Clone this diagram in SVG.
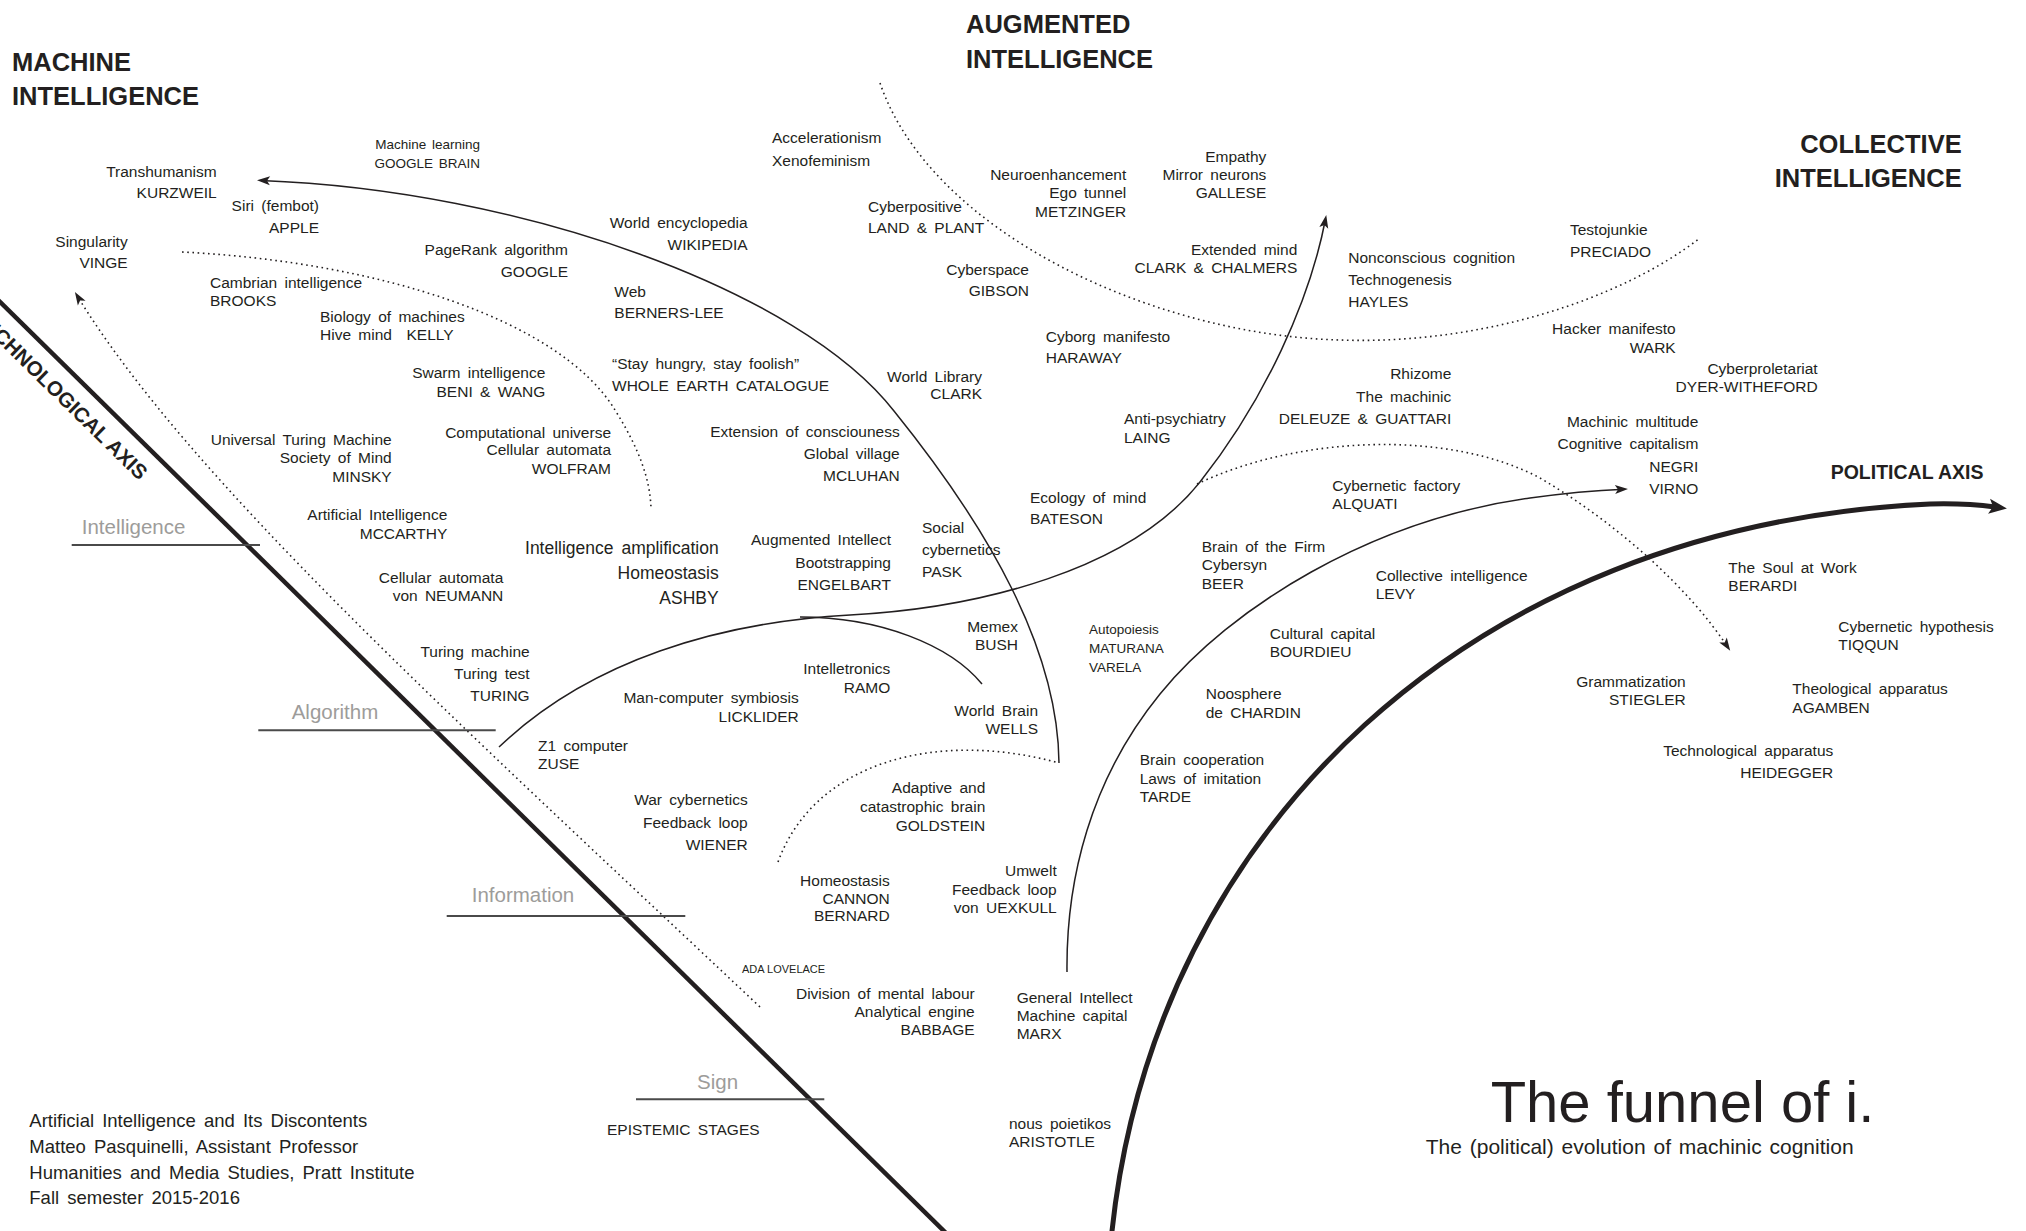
<svg xmlns="http://www.w3.org/2000/svg" width="2026" height="1231" viewBox="0 0 2026 1231">
<style>
text{font-family:"Liberation Sans",Arial,sans-serif;fill:#231f20}
.t{font-size:15.5px;word-spacing:3px}
.s{font-size:13.5px;word-spacing:2px}
.x{font-size:11px}
.b{font-size:17.5px;word-spacing:3px}
.e{text-anchor:end}
.h{font-weight:bold;font-size:25.5px}
.ax{font-weight:bold;font-size:19.5px}
.ta{font-weight:bold;font-size:20.6px}
.g{fill:#9d9c9a;font-size:20.5px}
.ft{font-size:18.5px;word-spacing:3px}
.ln{fill:none;stroke:#231f20;stroke-width:1.5}
.dt{fill:none;stroke:#231f20;stroke-width:1.6;stroke-dasharray:1.6 3.6}
.ul{stroke:#4a4a4a;stroke-width:2}
</style>
<defs>
<marker id="ah" markerUnits="userSpaceOnUse" viewBox="-10 -6 15 12" markerWidth="15" markerHeight="12" refX="0" refY="0" orient="auto"><path d="M4,0 L-9,-4.5 L-6,0 L-9,4.5 Z" fill="#231f20"/></marker>
<marker id="ahb" markerUnits="userSpaceOnUse" viewBox="-8 -9 22 18" markerWidth="22" markerHeight="18" refX="0" refY="0" orient="auto"><path d="M12,0 L-6,-7.5 L-2,0 L-6,7.5 Z" fill="#231f20"/></marker>
</defs>
<rect width="2026" height="1231" fill="#fff"/>

<g id="axes">
<line x1="-5" y1="297" x2="950" y2="1237" stroke="#231f20" stroke-width="4.5"/>
<path d="M1111,1240 L1112,1231 C1155,830 1470,525 1930,504 Q1965,503 1995,507" fill="none" stroke="#231f20" stroke-width="5" marker-end="url(#ahb)"/>
</g>

<g id="connectors">
<path class="ln" d="M1059,763 C1058,650 990,530 894,411 C800,290 520,190 261,180.5" marker-end="url(#ah)"/>
<path class="ln" d="M499,747 C590,660 720,622 850,615 C980,608 1130,570 1200,482 C1265,400 1310,300 1325.5,219" marker-end="url(#ah)"/>
<path class="ln" d="M800,617 C880,617 950,645 982,684"/>
<path class="ln" d="M1067,972 C1066,880 1090,780 1160,694 C1230,608 1370,520 1530,498 Q1580,491 1624,489.2" marker-end="url(#ah)"/>
<path class="dt" d="M182,252 C380,262 560,320 615,410 C640,450 650,480 651,508"/>
<path class="dt" d="M760,1007 C450,715 190,480 77,295.5" marker-end="url(#ah)"/>
<path class="dt" d="M880,83 C930,230 1150,335 1340,340 C1480,345 1620,300 1700,238"/>
<path class="dt" d="M1197,484 C1300,435 1450,430 1540,478 C1620,525 1690,590 1728,647.5" marker-end="url(#ah)"/>
<path class="dt" d="M778,862 C815,760 940,730 1059,763"/>
</g>

<g id="titles">
<text class="h" x="12" y="70.7">MACHINE</text>
<text class="h" x="12" y="105">INTELLIGENCE</text>
<text class="h" x="966" y="33">AUGMENTED</text>
<text class="h" x="966" y="68">INTELLIGENCE</text>
<text class="h e" x="1961.7" y="153.3">COLLECTIVE</text>
<text class="h e" x="1961.7" y="186.7">INTELLIGENCE</text>
<text class="ax" x="1830.7" y="479.3">POLITICAL AXIS</text>
<text class="ta e" transform="translate(139,481) rotate(44.5)" x="0" y="0">TECHNOLOGICAL AXIS</text>
</g>

<g id="stages">
<text class="g" x="81.7" y="534.3">Intelligence</text>
<line class="ul" x1="71.7" y1="545" x2="260" y2="545"/>
<text class="g" x="291.7" y="719.3">Algorithm</text>
<line class="ul" x1="258.3" y1="730.3" x2="495.7" y2="730.3"/>
<text class="g" x="471.7" y="902">Information</text>
<line class="ul" x1="446.7" y1="916" x2="685.3" y2="916"/>
<text class="g" x="697" y="1088.7">Sign</text>
<line class="ul" x1="636" y1="1099.3" x2="824.3" y2="1099.3"/>
<text class="t" x="607" y="1135.3">EPISTEMIC STAGES</text>
</g>

<g id="n-kurzweil"><text class="t e"><tspan x="216.7" y="176.7">Transhumanism</tspan><tspan x="216.7" y="198.3">KURZWEIL</tspan></text></g>
<g id="n-apple"><text class="t e"><tspan x="319" y="210.7">Siri (fembot)</tspan><tspan x="319" y="233.3">APPLE</tspan></text></g>
<g id="n-vinge"><text class="t e"><tspan x="127.7" y="246.7">Singularity</tspan><tspan x="127.7" y="268.3">VINGE</tspan></text></g>
<g id="n-googlebrain"><text class="s e"><tspan x="480" y="149">Machine learning</tspan><tspan x="480" y="168.3">GOOGLE BRAIN</tspan></text></g>
<g id="n-brooks"><text class="t"><tspan x="210" y="288.3">Cambrian intelligence</tspan><tspan x="210" y="306">BROOKS</tspan></text></g>
<g id="n-kelly"><text class="t" xml:space="preserve"><tspan x="320" y="321.7">Biology of machines</tspan><tspan x="320" y="340">Hive mind  KELLY</tspan></text></g>
<g id="n-beni"><text class="t e"><tspan x="545.3" y="378.3">Swarm intelligence</tspan><tspan x="545.3" y="396.7">BENI &amp; WANG</tspan></text></g>
<g id="n-google"><text class="t e"><tspan x="568" y="255">PageRank algorithm</tspan><tspan x="568" y="276.7">GOOGLE</tspan></text></g>
<g id="n-accel"><text class="t"><tspan x="772" y="143.3">Accelerationism</tspan><tspan x="772" y="165.7">Xenofeminism</tspan></text></g>
<g id="n-wikipedia"><text class="t e"><tspan x="747.7" y="228.3">World encyclopedia</tspan><tspan x="747.7" y="250">WIKIPEDIA</tspan></text></g>
<g id="n-bernerslee"><text class="t"><tspan x="614.3" y="296.7">Web</tspan><tspan x="614.3" y="318.3">BERNERS-LEE</tspan></text></g>
<g id="n-wholeearth"><text class="t"><tspan x="612" y="369.3">“Stay hungry, stay foolish”</tspan><tspan x="612" y="390.7">WHOLE EARTH CATALOGUE</tspan></text></g>
<g id="n-land"><text class="t"><tspan x="868" y="212.3">Cyberpositive</tspan><tspan x="868" y="233.3">LAND &amp; PLANT</tspan></text></g>
<g id="n-gibson"><text class="t e"><tspan x="1029" y="275">Cyberspace</tspan><tspan x="1029" y="296">GIBSON</tspan></text></g>
<g id="n-clark"><text class="t e"><tspan x="982" y="381.7">World Library</tspan><tspan x="982" y="399">CLARK</tspan></text></g>
<g id="n-metzinger"><text class="t e"><tspan x="1126.3" y="180">Neuroenhancement</tspan><tspan x="1126.3" y="198.3">Ego tunnel</tspan><tspan x="1126.3" y="216.7">METZINGER</tspan></text></g>
<g id="n-gallese"><text class="t e"><tspan x="1266.3" y="162.3">Empathy</tspan><tspan x="1266.3" y="180">Mirror neurons</tspan><tspan x="1266.3" y="198.3">GALLESE</tspan></text></g>
<g id="n-chalmers"><text class="t e"><tspan x="1297.3" y="255">Extended mind</tspan><tspan x="1297.3" y="272.7">CLARK &amp; CHALMERS</tspan></text></g>
<g id="n-hayles"><text class="t"><tspan x="1348.3" y="263.3">Nonconscious cognition</tspan><tspan x="1348.3" y="285">Technogenesis</tspan><tspan x="1348.3" y="306.7">HAYLES</tspan></text></g>
<g id="n-haraway"><text class="t"><tspan x="1045.7" y="342.3">Cyborg manifesto</tspan><tspan x="1045.7" y="362.7">HARAWAY</tspan></text></g>
<g id="n-deleuze"><text class="t e"><tspan x="1451.3" y="379">Rhizome</tspan><tspan x="1451.3" y="401.7">The machinic</tspan><tspan x="1451.3" y="423.7">DELEUZE &amp; GUATTARI</tspan></text></g>
<g id="n-preciado"><text class="t"><tspan x="1570" y="235">Testojunkie</tspan><tspan x="1570" y="256.7">PRECIADO</tspan></text></g>
<g id="n-wark"><text class="t e"><tspan x="1675.7" y="334.3">Hacker manifesto</tspan><tspan x="1675.7" y="352.7">WARK</tspan></text></g>
<g id="n-dyer"><text class="t e"><tspan x="1817.7" y="374">Cyberproletariat</tspan><tspan x="1817.7" y="392.3">DYER-WITHEFORD</tspan></text></g>
<g id="n-minsky"><text class="t e"><tspan x="391.7" y="445.3">Universal Turing Machine</tspan><tspan x="391.7" y="463.3">Society of Mind</tspan><tspan x="391.7" y="482">MINSKY</tspan></text></g>
<g id="n-mccarthy"><text class="t e"><tspan x="447.3" y="520.3">Artificial Intelligence</tspan><tspan x="447.3" y="539.3">MCCARTHY</tspan></text></g>
<g id="n-neumann"><text class="t e"><tspan x="503.3" y="582.7">Cellular automata</tspan><tspan x="503.3" y="601">von NEUMANN</tspan></text></g>
<g id="n-turing"><text class="t e"><tspan x="529.7" y="656.7">Turing machine</tspan><tspan x="529.7" y="679.3">Turing test</tspan><tspan x="529.7" y="701">TURING</tspan></text></g>
<g id="n-wolfram"><text class="t e"><tspan x="611" y="437.7">Computational universe</tspan><tspan x="611" y="455.3">Cellular automata</tspan><tspan x="611" y="474.3">WOLFRAM</tspan></text></g>
<g id="n-ashby"><text class="b e"><tspan x="718.7" y="553.7">Intelligence amplification</tspan><tspan x="718.7" y="579.3">Homeostasis</tspan><tspan x="718.7" y="603.7">ASHBY</tspan></text></g>
<g id="n-mcluhan"><text class="t e"><tspan x="899.7" y="437">Extension of consciouness</tspan><tspan x="899.7" y="459.3">Global village</tspan><tspan x="899.7" y="481">MCLUHAN</tspan></text></g>
<g id="n-engelbart"><text class="t e"><tspan x="891" y="545">Augmented Intellect</tspan><tspan x="891" y="567.7">Bootstrapping</tspan><tspan x="891" y="590">ENGELBART</tspan></text></g>
<g id="n-pask"><text class="t"><tspan x="922" y="533.3">Social</tspan><tspan x="922" y="555">cybernetics</tspan><tspan x="922" y="576.7">PASK</tspan></text></g>
<g id="n-bush"><text class="t e"><tspan x="1018" y="631.7">Memex</tspan><tspan x="1018" y="650">BUSH</tspan></text></g>
<g id="n-ramo"><text class="t e"><tspan x="890.3" y="673.7">Intelletronics</tspan><tspan x="890.3" y="692.7">RAMO</tspan></text></g>
<g id="n-licklider"><text class="t e"><tspan x="798.7" y="703.3">Man-computer symbiosis</tspan><tspan x="798.7" y="721.7">LICKLIDER</tspan></text></g>
<g id="n-wells"><text class="t e"><tspan x="1038" y="716">World Brain</tspan><tspan x="1038" y="733.7">WELLS</tspan></text></g>
<g id="n-zuse"><text class="t"><tspan x="538" y="751">Z1 computer</tspan><tspan x="538" y="769.3">ZUSE</tspan></text></g>
<g id="n-wiener"><text class="t e"><tspan x="747.7" y="805">War cybernetics</tspan><tspan x="747.7" y="828">Feedback loop</tspan><tspan x="747.7" y="850.3">WIENER</tspan></text></g>
<g id="n-goldstein"><text class="t e"><tspan x="985.3" y="792.7">Adaptive and</tspan><tspan x="985.3" y="812">catastrophic brain</tspan><tspan x="985.3" y="831">GOLDSTEIN</tspan></text></g>
<g id="n-laing"><text class="t"><tspan x="1124" y="424.3">Anti-psychiatry</tspan><tspan x="1124" y="442.7">LAING</tspan></text></g>
<g id="n-bateson"><text class="t"><tspan x="1030" y="502.7">Ecology of mind</tspan><tspan x="1030" y="524.3">BATESON</tspan></text></g>
<g id="n-alquati"><text class="t"><tspan x="1332.3" y="491">Cybernetic factory</tspan><tspan x="1332.3" y="508.7">ALQUATI</tspan></text></g>
<g id="n-beer"><text class="t"><tspan x="1201.7" y="552">Brain of the Firm</tspan><tspan x="1201.7" y="570">Cybersyn</tspan><tspan x="1201.7" y="589.3">BEER</tspan></text></g>
<g id="n-levy"><text class="t"><tspan x="1375.7" y="581">Collective intelligence</tspan><tspan x="1375.7" y="599.3">LEVY</tspan></text></g>
<g id="n-maturana"><text class="s"><tspan x="1089" y="633.7">Autopoiesis</tspan><tspan x="1089" y="652.7">MATURANA</tspan><tspan x="1089" y="671.7">VARELA</tspan></text></g>
<g id="n-bourdieu"><text class="t"><tspan x="1269.7" y="639.3">Cultural capital</tspan><tspan x="1269.7" y="657">BOURDIEU</tspan></text></g>
<g id="n-chardin"><text class="t"><tspan x="1205.7" y="699.3">Noosphere</tspan><tspan x="1205.7" y="717.7">de CHARDIN</tspan></text></g>
<g id="n-tarde"><text class="t"><tspan x="1139.7" y="765">Brain cooperation</tspan><tspan x="1139.7" y="783.7">Laws of imitation</tspan><tspan x="1139.7" y="801.7">TARDE</tspan></text></g>
<g id="n-negri"><text class="t e"><tspan x="1698.3" y="427">Machinic multitude</tspan><tspan x="1698.3" y="449.3">Cognitive capitalism</tspan><tspan x="1698.3" y="472">NEGRI</tspan><tspan x="1698.3" y="493.7">VIRNO</tspan></text></g>
<g id="n-berardi"><text class="t"><tspan x="1728.3" y="572.7">The Soul at Work</tspan><tspan x="1728.3" y="591">BERARDI</tspan></text></g>
<g id="n-tiqqun"><text class="t"><tspan x="1838.3" y="631.7">Cybernetic hypothesis</tspan><tspan x="1838.3" y="650.3">TIQQUN</tspan></text></g>
<g id="n-stiegler"><text class="t e"><tspan x="1685.7" y="687">Grammatization</tspan><tspan x="1685.7" y="705">STIEGLER</tspan></text></g>
<g id="n-agamben"><text class="t"><tspan x="1792.3" y="694.3">Theological apparatus</tspan><tspan x="1792.3" y="712.7">AGAMBEN</tspan></text></g>
<g id="n-heidegger"><text class="t e"><tspan x="1833.3" y="756">Technological apparatus</tspan><tspan x="1833.3" y="777.7">HEIDEGGER</tspan></text></g>
<g id="n-cannon"><text class="t e"><tspan x="889.7" y="886">Homeostasis</tspan><tspan x="889.7" y="903.7">CANNON</tspan><tspan x="889.7" y="921.3">BERNARD</tspan></text></g>
<g id="n-uexkull"><text class="t e"><tspan x="1056.7" y="876">Umwelt</tspan><tspan x="1056.7" y="895.3">Feedback loop</tspan><tspan x="1056.7" y="912.7">von UEXKULL</tspan></text></g>
<g id="n-lovelace"><text class="x" x="742" y="972.7">ADA LOVELACE</text></g>
<g id="n-babbage"><text class="t e"><tspan x="974.7" y="998.7">Division of mental labour</tspan><tspan x="974.7" y="1017">Analytical engine</tspan><tspan x="974.7" y="1034.7">BABBAGE</tspan></text></g>
<g id="n-marx"><text class="t"><tspan x="1016.7" y="1003">General Intellect</tspan><tspan x="1016.7" y="1021">Machine capital</tspan><tspan x="1016.7" y="1039.3">MARX</tspan></text></g>
<g id="n-aristotle"><text class="t"><tspan x="1009" y="1128.7">nous poietikos</tspan><tspan x="1009" y="1147">ARISTOTLE</tspan></text></g>

<g id="title">
<text x="1490.7" y="1122" font-size="58">The funnel of i.</text>
<text x="1425.7" y="1153.7" font-size="21" word-spacing="2">The (political) evolution of machinic cognition</text>
</g>
<g id="footer">
<text class="ft"><tspan x="29.3" y="1127">Artificial Intelligence and Its Discontents</tspan><tspan x="29.3" y="1153">Matteo Pasquinelli, Assistant Professor</tspan><tspan x="29.3" y="1178.7">Humanities and Media Studies, Pratt Institute</tspan><tspan x="29.3" y="1203.7">Fall semester 2015-2016</tspan></text>
</g>
</svg>
